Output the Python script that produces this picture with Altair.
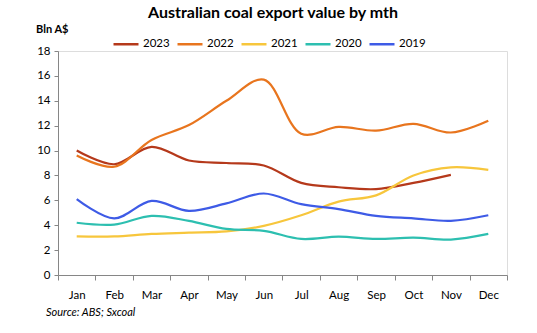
import altair as alt
import pandas as pd

months = ["Jan", "Feb", "Mar", "Apr", "May", "Jun", "Jul", "Aug", "Sep", "Oct", "Nov", "Dec"]
years = ["2023", "2022", "2021", "2020", "2019"]
colors = ["#B5391B", "#E8751E", "#F7C63C", "#2DBFB0", "#3E5BE6"]

v2023 = [10.0, 8.9, 10.3, 9.2, 9.0, 8.8, 7.4, 7.05, 6.9, 7.4, 8.05]
v2022 = [9.6, 8.7, 10.85, 12.05, 14.0, 15.7, 11.35, 11.9, 11.6, 12.15, 11.45, 12.4]
v2021 = [3.1, 3.1, 3.3, 3.4, 3.5, 3.95, 4.8, 5.9, 6.4, 8.0, 8.65, 8.45]
v2020 = [4.2, 4.05, 4.75, 4.35, 3.7, 3.55, 2.9, 3.08, 2.9, 3.0, 2.85, 3.3]
v2019 = [6.1, 4.55, 5.95, 5.15, 5.75, 6.55, 5.7, 5.3, 4.75, 4.55, 4.35, 4.8]

series = {"2023": v2023, "2022": v2022, "2021": v2021, "2020": v2020, "2019": v2019}
rows = []
for y, vals in series.items():
    for m, v in zip(months, vals):
        rows.append({"month": m, "year": y, "value": v})
df = pd.DataFrame(rows)

FONT = "Lato"

lines = alt.Chart(df).mark_line(interpolate="catmull-rom", strokeWidth=2.2).encode(
    x=alt.X("month:O", sort=months,
            scale=alt.Scale(paddingInner=0, paddingOuter=0),
            axis=alt.Axis(title=None, tickBand="extent", labelAngle=0, domainColor="#868686",
                          tickColor="#868686", tickSize=5, labelPadding=9, labelFontSize=11.5,
                          labelColor="#000000", labelFont=FONT, grid=False)),
    y=alt.Y("value:Q", scale=alt.Scale(domain=[0, 18], nice=False),
            axis=alt.Axis(title=None, values=list(range(0, 19, 2)), domainColor="#868686",
                          tickColor="#868686", tickSize=4, labelPadding=4, labelFontSize=11.5,
                          labelColor="#000000", labelFont=FONT, grid=False)),
    color=alt.Color("year:N", scale=alt.Scale(domain=years, range=colors),
                    legend=alt.Legend(title=None, orient="none", legendX=54, legendY=-21,
                                      direction="horizontal", columns=5, symbolType="stroke",
                                      symbolSize=625, symbolStrokeWidth=2.5, labelFontSize=11.5,
                                      labelFont=FONT, labelColor="#000000", columnPadding=2,
                                      labelOffset=3, gridAlign="all")),
    detail="year:N",
)

title_df = pd.DataFrame({"t": ["Australian coal export value by mth"]})
title = alt.Chart(title_df).mark_text(fontSize=16, fontWeight="bold", font=FONT, align="center",
                                      baseline="middle", color="#000000").encode(
    text="t:N", x=alt.value(215), y=alt.value(-38))

unit_df = pd.DataFrame({"t": ["Bln A$"]})
unit = alt.Chart(unit_df).mark_text(fontSize=11, fontWeight="bold", font=FONT, align="left",
                                    baseline="middle", color="#000000").encode(
    text="t:N", x=alt.value(-22), y=alt.value(-21))

src_df = pd.DataFrame({"t": ["Source:  ABS; Sxcoal"]})
src = alt.Chart(src_df).mark_text(fontSize=11, fontStyle="italic", font=FONT, align="left",
                                  baseline="middle", color="#000000").encode(
    text="t:N", x=alt.value(-12), y=alt.value(38 + 224))

chart = alt.layer(lines, title, unit, src).properties(
    width=449, height=224,
    autosize=alt.AutoSizeParams(type="none"),
    padding={"left": 58, "top": 51, "right": 30, "bottom": 58},
).configure_view(stroke=None).configure(background="white")

chart.save("out.html", embed_options={"renderer": "svg", "actions": False})
